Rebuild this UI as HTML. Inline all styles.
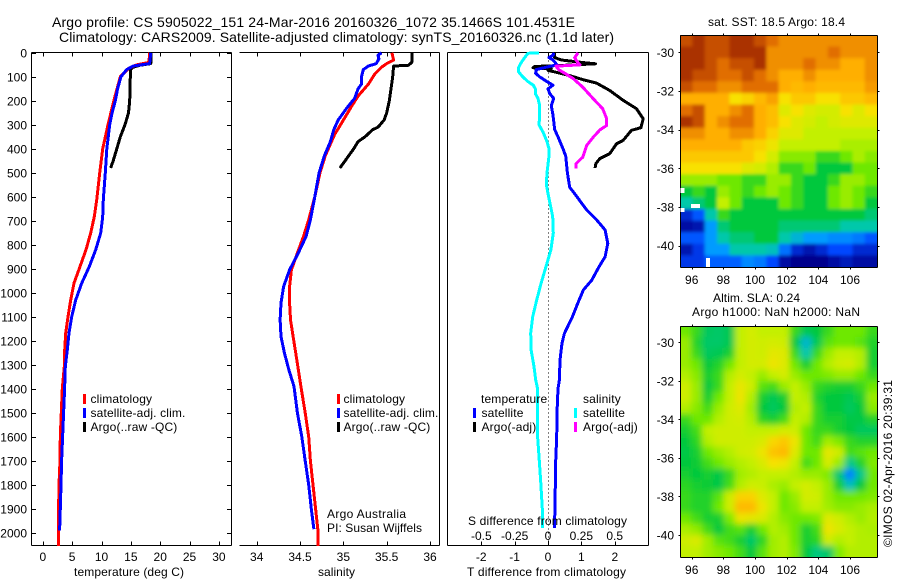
<!DOCTYPE html>
<html>
<head>
<meta charset="utf-8">
<title>Argo profile</title>
<style>
html,body{margin:0;padding:0;background:#fff;}
svg{display:block;}
text{font-family:"Liberation Sans",sans-serif;font-size:12px;fill:#000;}
</style>
</head>
<body>
<svg id="chart" xmlns="http://www.w3.org/2000/svg" width="900" height="580" viewBox="0 0 900 580">
<defs>
<clipPath id="clip-sst"><rect x="680" y="35" width="197" height="232"/></clipPath>
<clipPath id="clip-sla"><rect x="680" y="326" width="197" height="231"/></clipPath>
<filter id="blur-sst" filterUnits="userSpaceOnUse" x="640" y="0" width="260" height="300"><feGaussianBlur stdDeviation="1.6"/></filter>
<filter id="blur-sla" filterUnits="userSpaceOnUse" x="640" y="290" width="260" height="290"><feGaussianBlur stdDeviation="3.2"/></filter>
</defs>
<rect x="0" y="0" width="900" height="580" fill="#fff"/>
<text x="52" y="27" style="font-size:14px" textLength="523" lengthAdjust="spacing">Argo profile: CS 5905022_151 24-Mar-2016 20160326_1072 35.1466S 101.4531E</text>
<text x="59" y="42" style="font-size:14px" textLength="555" lengthAdjust="spacing">Climatology: CARS2009. Satellite-adjusted climatology: synTS_20160326.nc (1.1d later)</text>

<g id="p1"></g>
<g id="p2"></g>
<g id="p3"></g>

<text x="74" y="576" textLength="110" lengthAdjust="spacing">temperature (deg C)</text>
<text x="318" y="576" textLength="37" lengthAdjust="spacing">salinity</text>
<text x="467" y="576" textLength="159" lengthAdjust="spacing">T difference from climatology</text>
<text x="468" y="525" textLength="159" lengthAdjust="spacing">S difference from climatology</text>

<text x="327" y="518" textLength="79" lengthAdjust="spacing">Argo Australia</text>
<text x="327" y="532" textLength="95" lengthAdjust="spacing">PI: Susan Wijffels</text>

<g id="m1"></g>
<g id="m2"></g>

<text x="708" y="26" textLength="137" lengthAdjust="spacing">sat. SST: 18.5 Argo: 18.4</text>
<text x="713" y="302" textLength="87" lengthAdjust="spacing">Altim. SLA: 0.24</text>
<text x="692" y="316" textLength="168" lengthAdjust="spacing">Argo h1000: NaN h2000: NaN</text>
<text transform="translate(892,547) rotate(-90)" x="0" y="0" textLength="167" lengthAdjust="spacing">©IMOS 02-Apr-2016 20:39:31</text>
</svg>

<script>
// ---- depth axis ----
const depthTicks = [0,100,200,300,400,500,600,700,800,900,1000,1100,1200,1300,1400,1500,1600,1700,1800,1900,2000];

// ---- temperature panel ----
const tempTicks = [0,5,10,15,20,25,30];
const tempClimDepth = [0,40,50,65,100,200,300,400,500,613,683,751,821,891,960,1030,1100,1168,1238,1308,1400,1500,1600,1700,1800,1900,2000,2054];
const tempClim = [18.2,18.1,16,14.6,13.2,12.1,11.1,10.2,9.7,9.18,8.77,8.16,7.36,6.34,5.32,4.75,4.29,3.9,3.73,3.66,3.32,3.15,2.98,2.93,2.76,2.69,2.64,2.64];
const tempSatDepth = [0,45,55,70,100,150,200,250,300,400,500,613,683,751,821,891,960,1030,1100,1168,1238,1308,1400,1500,1600,1700,1800,1900,1990];
const tempSat = [18.4,18.2,15.4,14.3,13.3,12.75,12.35,11.8,11.4,10.9,10.65,10.31,10.2,9.86,9.01,7.92,6.63,5.6,4.92,4.46,4.17,3.83,3.71,3.54,3.37,3.2,3.1,2.98,2.86];
const tempArgoDepth = [0,45,52,60,70,100,200,250,300,350,400,450,480];
const tempArgo = [18.4,18.4,16.5,15.4,14.9,14.9,14.8,14.6,14,13.2,12.6,12,11.55];

// ---- salinity panel ----
const salTicks = [34,34.5,35,35.5,36];
const salTickLabels = ['34','34.5','35','35.5','36'];
const salClimDepth = [0,30,45,60,90,130,180,220,280,340,380,430,500,600,696,765,834,904,974,1042,1112,1182,1250,1320,1390,1500,1600,1700,1800,1900,2000,2054];
const salClim = [35.56,35.58,35.5,35.44,35.36,35.29,35.17,35.1,35,34.9,34.85,34.79,34.73,34.67,34.6,34.54,34.47,34.4,34.38,34.38,34.39,34.42,34.45,34.48,34.51,34.56,34.6,34.62,34.65,34.68,34.71,34.71];
const salSatDepth = [0,10,25,45,55,70,100,130,150,190,230,280,320,370,430,500,600,696,765,834,904,974,1042,1112,1182,1250,1320,1390,1500,1600,1700,1800,1900,1985];
const salSat = [35.44,35.4,35.41,35.38,35.29,35.23,35.21,35.21,35.17,35.13,35.04,34.94,34.89,34.85,34.78,34.72,34.67,34.62,34.57,34.48,34.38,34.31,34.28,34.27,34.28,34.32,34.37,34.43,34.47,34.52,34.56,34.6,34.63,34.66];
const salArgoDepth = [0,40,52,55,100,150,200,250,280,310,320,350,370,400,430,450,480];
const salArgo = [35.79,35.79,35.75,35.58,35.57,35.55,35.53,35.5,35.47,35.4,35.34,35.25,35.17,35.12,35.06,35.02,34.96];

// ---- difference panel ----
const diffTTicks = [-2,-1,0,1,2];
const diffSTicks = [-0.5,-0.25,0,0.25,0.5];
const diffSTickLabels = ['-0.5','-0.25','0','0.25','0.5'];
const diffTSatDepth = [0,10,20,30,50,60,70,85,100,120,135,150,170,190,220,260,320,350,400,430,500,560,601,655,697,738,794,850,891,947,988,1044,1100,1169,1210,1280,1363,1400,1500,1600,1700,1800,1900,1980];
const diffTSat = [0.18,0.15,0.03,0.15,0.27,-0.05,-0.35,-0.37,-0.25,-0.03,0.15,0,0.05,0.17,0.1,0.15,0.2,0.3,0.45,0.53,0.58,0.65,0.87,1.16,1.46,1.71,1.79,1.71,1.53,1.31,1.06,0.89,0.73,0.49,0.42,0.36,0.34,0.3,0.27,0.26,0.23,0.22,0.21,0.19];
const diffTArgoDepth = [0,20,30,40,46,52,57,62,67,73,95,112,126,157,198,233,275,312,323,365,379,420,441,462,480];
const diffTArgo = [0.2,0.2,0.4,1,1.42,0.5,-0.4,-0.45,0.1,0,0.65,1.05,1.45,1.85,2.25,2.65,2.85,2.78,2.5,2.25,2.05,1.85,1.55,1.43,1.41];
const diffSSatDepth = [0,2,20,40,60,80,100,120,135,150,170,190,220,260,300,330,370,400,430,500,550,613,683,751,821,891,960,1030,1100,1168,1238,1308,1363,1400,1500,1600,1700,1800,1900,1980];
const diffSSat = [-0.0675,-0.15,-0.175,-0.2,-0.22,-0.22,-0.19,-0.15,-0.11,-0.095,-0.095,-0.075,-0.0625,-0.0625,-0.0675,-0.0375,-0.0075,0.0075,0.0075,-0.0075,-0.0125,0.01,0.035,0.04,0.022,-0.015,-0.052,-0.085,-0.115,-0.13,-0.127,-0.105,-0.092,-0.078,-0.08,-0.078,-0.065,-0.053,-0.043,-0.04];
const diffSArgoDepth = [0,20,30,45,50,56,70,85,108,143,192,233,275,303,321,351,386,435,462,482];
const diffSArgo = [0.225,0.2,0.21,0.23,0.24,0.06,0.08,0.125,0.19,0.26,0.34,0.41,0.44,0.44,0.39,0.34,0.29,0.26,0.21,0.21];

// ---- maps ----
const lonTicks = [96,98,100,102,104,106];
const latTicks = [-30,-32,-34,-36,-38,-40];
const sstGrid = [
[9.5,10,9.5,9.5,10,10,9.5,9,8.5,8.5,8.5,8.5,8.5,8.5,8.5,8.5],
[10,10,9.5,9.5,10,10,10,8.5,8.5,8.5,8.5,8.5,9,8.5,8.5,8.5],
[10,10,9.5,9,9.5,9.5,10,8.5,8.5,8.5,9,8.5,8.5,8,8,8.5],
[10,9.5,9.5,9,9,9.5,9,8.5,8,8,8.5,8,8,8,8,8.5],
[9.5,9,9,8.5,8.5,9,9,9,8,7.8,8,7.8,7.8,7.8,7.8,8.3],
[8,8,8,8,7,7.3,7.8,8.2,7,7.5,7.5,7,7,7.5,7.5,7.8],
[9,9.5,8,8,8.5,9,8,7.7,6.5,7,6.5,6.3,6.3,7,6.5,7],
[10,9.5,8,8.5,9,9,8,7.7,7,6.5,6.3,6,6.3,6.5,6.5,6.5],
[8.5,8.5,8,8,8.5,8.5,8,7.3,6.5,6.5,6,6,6,6,6,6],
[8,8,8,8,8,7.5,7.3,6.8,6,6,6,6,6,5.7,5.7,5.7],
[7.5,7.5,7.5,7.5,7.5,7.5,7,6.3,5.3,5.3,5.3,4.5,4.5,5,5.7,5.3],
[7,7,7,7,7,6.5,6.3,5.8,4.5,4.5,5,4,4,4,5,5],
[5.5,5.5,5.5,5,5,4.5,4.5,5.5,5.5,4.5,4,4,4.5,5.5,5.5,5],
[4,4.5,4,5.5,5,4.5,5,5.5,5,4.5,4,4,5,5.5,5,4.5],
[3,3.5,4,6,5,4,4,4,5,4.5,4,4,5,5.5,5,4],
[0.6,1.2,3,4.5,4,4,4,4,4,4,4,4,4,4,4,3.5],
[0.2,0.3,2,3.5,4,4,4,4,3.5,3.5,3.5,3.5,3.5,3,3,3],
[1.2,1.2,2,3,3.5,3.5,4,4,3,2.5,2,2,1.8,1.8,1.6,1.2],
[0.3,0.8,2,2,3,3,3,2.8,1.5,0.6,0.3,0.6,1,1,0.6,0.6],
[0.8,0.8,1.3,1.3,1.3,1.8,1.6,1,0.2,0,0,0,0.2,0.4,0.2,0.2]
];
const slaGrid = [
[5,4.5,3.7,3.6,3.8,6,6.3,6,6,6,4.5,3.8,4,4.5,5,5,5,4.5],
[5.5,4.3,3.6,3.6,3.8,6,6.3,6.2,6.3,6.2,4,2.6,3.8,4.8,5,5,4.8,4.3],
[5.5,4.5,3.7,3.8,4.2,6,6.3,6.2,6.6,6.5,4.5,3,4.5,5.5,6,6,5.8,4.2],
[5.5,5,4,4.3,5,6,6.3,6.3,6.8,6.5,5,4.2,5,5.8,6.2,6.3,5.8,4.2],
[5.8,5.3,4.2,4.5,5.8,6.3,6,5.5,6,6.3,5.5,5,5,5.2,5.5,5.5,5,4.5],
[6.2,5.5,4,4.5,6,6.7,6.2,4.8,4.6,5.5,6,5.5,4.5,4.3,4.2,4.2,4.5,5],
[6.2,5.5,4.2,5,6,6.8,5.8,4.2,3.8,4.2,6,5.8,4.3,4,4,3.8,4.2,5.5],
[5.8,5.3,4.6,5.5,6.2,6.5,5.6,4,3.7,4,5.8,6,4.5,4,4,3.7,4,5.3],
[4.5,5,5,5.8,6.2,6.3,5.8,4.4,4.2,4.6,6,5.8,4.5,4.2,4.2,3.9,3.9,4.3],
[4.2,4.6,6,6.2,6.2,6.2,6,6,6,6.3,6.2,5,4.5,4.5,4.2,4,3.7,3.7],
[4,4.4,5.8,6.2,6.2,6.2,6.2,6.4,7.2,7.5,6.8,5,4.6,5.6,5.2,4.5,4.3,4.3],
[3.9,4.2,5,5.5,5.8,6.2,6.3,6.8,7.6,7.8,6.5,5,5,6.6,6.2,4.6,4.8,5],
[4,4.1,4.6,5,5.5,5.8,6,6.4,7,6.8,6,4.6,5,6.3,5.5,3.3,4.3,5.2],
[4.2,4,4.2,3.9,4.5,5.6,5.8,6,6,6,5.8,5.5,5.5,5.2,3.5,1.7,3.3,5],
[4.4,4.2,4.1,3.9,4.6,5.8,6.2,6.1,5.7,5.5,6,6.3,6,5.5,4.2,2.8,4,5],
[4.5,4.3,4.3,4.8,6.2,7.3,7.3,6.5,6,5,5.5,6.3,6.2,5.5,5,5,5,5.2],
[4.5,4.3,4.3,5,6.2,7.8,7.8,6.8,6,5,5.3,6,6,5.6,5.3,5.3,5.5,5.7],
[5,4.6,4.2,4.2,5.2,6.8,6.6,6.4,5.8,5.3,5,5,5.2,6.5,6.2,5.8,5.5,5.8],
[5.7,5.4,4.6,4,4.6,4.8,4.2,5,5.8,5.6,5,4.2,4.6,6.8,6.4,6,5.8,5.7],
[6.2,6.4,5.6,4.8,4.6,4.2,3.6,4.4,5.6,5.8,5,4.2,4.4,6.2,5.8,6,5.8,5.8],
[6,6,5.6,5.3,5,4.6,4,4.8,5.6,5.8,5.2,4,3.4,3.6,5.2,5.8,5.8,5.8]
];

const NS = 'http://www.w3.org/2000/svg';
const palette = [[0,0,140],[0,70,255],[0,155,255],[0,200,170],[0,200,60],[110,232,0],[195,240,0],[248,225,0],[255,175,0],[225,110,0],[170,50,0]];

function make(tag, parent, attrs, txt) {
  const el = document.createElementNS(NS, tag);
  for (const k in attrs) el.setAttribute(k, attrs[k]);
  if (txt !== undefined) el.textContent = txt;
  parent.appendChild(el);
  return el;
}
function colorFor(v) {
  const c = Math.max(0, Math.min(palette.length - 1, v));
  const i = Math.min(palette.length - 2, Math.floor(c));
  const f = c - i;
  const a = palette[i], b = palette[i + 1];
  return 'rgb(' + [0,1,2].map(k => Math.round(a[k] + (b[k] - a[k]) * f)).join(',') + ')';
}

// axis functions
const yDepth = d => 52.8 + 0.24 * d;
const xTemp = t => 42.8 + 5.87 * t;
const xSal = s => 256.7 + 86.65 * (s - 34);
const xDiffT = t => 548 + 33.4 * t;
const xDiffS = s => 548 + 133.4 * s;
const xLon = lon => 691.7 + 15.83 * (lon - 96);
const ySst = lat => 52.3 + 19.34 * (-30 - lat);
const ySla = lat => 342.3 + 19.27 * (-30 - lat);

const TOP = 52.5, BOTTOM = 545.5;

function hline(parent, x1, x2, y) {
  const el = make('line', parent, {x1: x1, x2: x2, y1: y, y2: y, stroke: '#000', 'stroke-width': 1, 'shape-rendering': 'crispEdges'});
  
  
  return el;
}
function vline(parent, x, y1, y2) {
  const el = make('line', parent, {x1: x, x2: x, y1: y1, y2: y2, stroke: '#000', 'stroke-width': 1, 'shape-rendering': 'crispEdges'});
  
  
  return el;
}
function xTickSet(parent, values, labels, xf, labelY, ticksTop, ticksBottom) {
  values.forEach((v, i) => {
    const x = Math.round(xf(v)) + 0.5;
    if (ticksTop) {
      const t = vline(parent, x, TOP, TOP + 4);
      
    }
    if (ticksBottom) {
      const b = vline(parent, x, BOTTOM - 4, BOTTOM);
      
    }
    const lab = make('text', parent, {x: xf(v), y: labelY, 'text-anchor': 'middle'}, labels[i]);
    
    
  });
}
function series(parent, name, depth, vals, xf, color, width) {
  const pts = depth.map((d, i) => xf(vals[i]).toFixed(1) + ',' + yDepth(d).toFixed(1)).join(' ');
  const el = make('polyline', parent, {points: pts, fill: 'none', stroke: color, 'stroke-width': width, 'stroke-linejoin': 'round', 'shape-rendering': 'crispEdges'});
  
  
  return el;
}
function legendEntry(parent, name, mx, tx, cy, color, label) {
  if (color) {
    const m = make('rect', parent, {x: mx - 1.5, y: cy - 5, width: 3, height: 10, fill: color, 'shape-rendering': 'crispEdges'});
    
    
  }
  const t = make('text', parent, {x: tx, y: cy + 4, style: 'letter-spacing:0.15px'}, label);
  
  
}

// Panel 1
const p1 = document.getElementById('p1');
hline(p1, 31.5, 231.5, TOP);
hline(p1, 31.5, 231.5, BOTTOM);
vline(p1, 31.5, TOP, BOTTOM);
vline(p1, 231.5, TOP, BOTTOM);
depthTicks.forEach(d => {
  const y = Math.round(yDepth(d)) + 0.5;
  const l = hline(p1, 31.5, 36, y);
  
  const r = hline(p1, 227, 231.5, y);
  
  const lab = make('text', p1, {x: 27, y: yDepth(d) + 4.5, 'text-anchor': 'end'}, String(d));
  
  
});
xTickSet(p1, tempTicks, tempTicks.map(String), xTemp, 561, true, true);
series(p1, 'temperature-argo-line', tempArgoDepth, tempArgo, xTemp, '#000', 3);
series(p1, 'temperature-climatology-line', tempClimDepth, tempClim, xTemp, '#f00', 3);
series(p1, 'temperature-satellite-line', tempSatDepth, tempSat, xTemp, '#00f', 3);
legendEntry(p1, 'legend-climatology', 84.5, 90.5, 399, '#f00', 'climatology');
legendEntry(p1, 'legend-satellite-adj', 84.5, 90.5, 413, '#00f', 'satellite-adj. clim.');
legendEntry(p1, 'legend-argo', 84.5, 90.5, 427, '#000', 'Argo(..raw -QC)');

// Panel 2
const p2 = document.getElementById('p2');
hline(p2, 239.5, 439.5, TOP);
hline(p2, 239.5, 439.5, BOTTOM);
vline(p2, 439.5, TOP, BOTTOM);
xTickSet(p2, salTicks, salTickLabels, xSal, 561, true, true);
series(p2, 'salinity-argo-line', salArgoDepth, salArgo, xSal, '#000', 3);
series(p2, 'salinity-climatology-line', salClimDepth, salClim, xSal, '#f00', 3);
series(p2, 'salinity-satellite-line', salSatDepth, salSat, xSal, '#00f', 3);
legendEntry(p2, 'legend-climatology', 338.5, 343.5, 399, '#f00', 'climatology');
legendEntry(p2, 'legend-satellite-adj', 338.5, 343.5, 413, '#00f', 'satellite-adj. clim.');
legendEntry(p2, 'legend-argo', 338.5, 343.5, 427, '#000', 'Argo(..raw -QC)');

// Panel 3
const p3 = document.getElementById('p3');
hline(p3, 447.5, 648.5, TOP);
hline(p3, 447.5, 648.5, BOTTOM);
vline(p3, 447.5, TOP, BOTTOM);
vline(p3, 648.5, TOP, BOTTOM);
const zero = make('line', p3, {x1: Math.round(xDiffT(0)) + 0.5, x2: Math.round(xDiffT(0)) + 0.5, y1: TOP, y2: BOTTOM, stroke: '#000', 'stroke-width': 1, 'stroke-dasharray': '1 3', 'shape-rendering': 'crispEdges'});


xTickSet(p3, diffTTicks, diffTTicks.map(String), xDiffT, 561, true, true);
xTickSet(p3, diffSTicks, diffSTickLabels, xDiffS, 540, false, false);
series(p3, 't-diff-argo-line', diffTArgoDepth, diffTArgo, xDiffT, '#000', 3);
series(p3, 't-diff-satellite-line', diffTSatDepth, diffTSat, xDiffT, '#00f', 3);
series(p3, 's-diff-argo-line', diffSArgoDepth, diffSArgo, xDiffS, '#f0f', 3);
series(p3, 's-diff-satellite-line', diffSSatDepth, diffSSat, xDiffS, '#0ff', 3);
legendEntry(p3, 'legend-temperature-heading', 0, 481, 399, null, 'temperature');
legendEntry(p3, 'legend-salinity-heading', 0, 583, 399, null, 'salinity');
legendEntry(p3, 'legend-t-satellite', 474.5, 481.5, 413, '#00f', 'satellite');
legendEntry(p3, 'legend-t-argo', 474.5, 481.5, 427, '#000', 'Argo(-adj)');
legendEntry(p3, 'legend-s-satellite', 575.5, 583, 413, '#0ff', 'satellite');
legendEntry(p3, 'legend-s-argo', 575.5, 583, 427, '#f0f', 'Argo(-adj)');

// Maps
function drawMap(groupId, grid, yf, clipId, filterId, topLat, bottomLat, leftLon, rightLon, labelY, cellName) {
  const g = document.getElementById(groupId);
  const clip = make('g', g, {'clip-path': 'url(#' + clipId + ')'});
  
  
  const cells = make('g', clip, {filter: 'url(#' + filterId + ')'});
  
  
  const nr = grid.length, nc = grid[0].length;
  const dLon = (rightLon - leftLon) / nc, dLat = (topLat - bottomLat) / nr;
  grid.forEach((row, r) => {
    row.forEach((v, c) => {
      const x0 = xLon(leftLon + c * dLon), x1 = xLon(leftLon + (c + 1) * dLon);
      const y0 = yf(topLat - r * dLat), y1 = yf(topLat - (r + 1) * dLat);
      const ox = c === 0 ? 12 : 0, ex = c === nc - 1 ? 12 : 0;
      const oy = r === 0 ? 12 : 0, ey = r === nr - 1 ? 12 : 0;
      const cell = make('rect', cells, {x: (x0 - ox).toFixed(2), y: (y0 - oy).toFixed(2), width: (x1 - x0 + ox + ex + 0.4).toFixed(2), height: (y1 - y0 + oy + ey + 0.4).toFixed(2), fill: colorFor(v)});
      
      
    });
  });
  const left = 680.5, right = 877.5, top = Math.round(yf(topLat)) + 0.5, bottom = Math.round(yf(bottomLat)) + 0.5;
  hline(g, left, right, top);
  hline(g, left, right, bottom);
  vline(g, left, top, bottom);
  vline(g, right, top, bottom);
  lonTicks.forEach(lon => {
    const x = Math.round(xLon(lon)) + 0.5;
    const a = vline(g, x, top - 2, top);
    
    const b = vline(g, x, bottom, bottom + 2);
    
    const lab = make('text', g, {x: xLon(lon), y: labelY, 'text-anchor': 'middle'}, String(lon));
    
    
  });
  latTicks.forEach(lat => {
    const y = Math.round(yf(lat)) + 0.5;
    const a = hline(g, left - 2, left, y);
    
    const b = hline(g, right, right + 2, y);
    
    const lab = make('text', g, {x: 674, y: yf(lat) + 4.5, 'text-anchor': 'end'}, String(lat));
    
    
  });
  return g;
}
const sstMap = drawMap('m1', sstGrid, ySst, 'clip-sst', 'blur-sst', -29.1, -41.1, 95.27, 107.71, 284, 'sst-cell');
[[680.5,188,4,5],[691,204,9,4],[680.5,208,4,4],[706,258,4,9]].forEach(b => {
  const gap = make('rect', sstMap, {x: b[0], y: b[1], width: b[2], height: b[3], fill: '#fff'});
  
  
});
drawMap('m2', slaGrid, ySla, 'clip-sla', 'blur-sla', -29.14, -41.13, 95.27, 107.71, 574, 'sla-cell');
</script>
</body>
</html>
